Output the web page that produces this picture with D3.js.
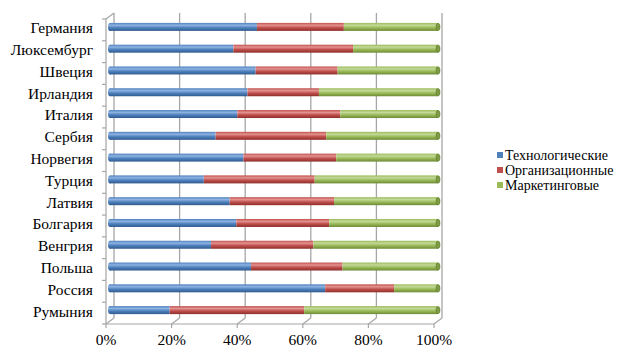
<!DOCTYPE html>
<html>
<head>
<meta charset="utf-8">
<script src="https://cdn.jsdelivr.net/npm/d3@7"></script>
<style>
  body { margin: 0; background: #fff; }
</style>
</head>
<body>
<div id="chart"></div>
<script>
var width = 627;
var height = 352;
var font = "'Liberation Serif', 'Times New Roman', Tinos, 'DejaVu Serif', serif";

var countries = ["Германия","Люксембург","Швеция","Ирландия","Италия","Сербия","Норвегия",
                 "Турция","Латвия","Болгария","Венгрия","Польша","Россия","Румыния"];
var tech = [44.8, 37.6, 44.4, 41.9, 38.8, 32.2, 40.7, 28.6, 36.5, 38.5, 30.8, 43.0, 65.6, 18.2];
var org  = [26.5, 36.5, 25.0, 21.8, 31.4, 33.7, 28.3, 33.8, 31.8, 28.3, 31.2, 27.9, 21.0, 41.0];
var mkt  = [28.7, 25.9, 30.6, 36.3, 29.8, 34.1, 31.0, 37.6, 31.7, 33.2, 38.0, 29.1, 13.4, 40.8];
var seriesNames = ["Технологические", "Организационные", "Маркетинговые"];
var ticks = [0, 20, 40, 60, 80, 100];

var colors = ["#4F81BD", "#C0504D", "#9BBB59"];
var light = ["#8DB3E2", "#E39390", "#C3D99A"];
var dark = ["#2F5B8F", "#8E2F2C", "#6D8A36"];

var svg = d3.select("#chart").append("svg")
  .attr("width", width)
  .attr("height", height)
  .style("font-family", font);

// front plane of the 3D box, depth offset to the back wall
var margin = {top: 19, bottom: 28, left: 106, right: 193};
var depth = {dx: 8, dy: -6};

var xScale = d3.scaleLinear()
  .domain([0, 100])
  .range([margin.left, width - margin.right]);

var yScale = d3.scaleBand()
  .domain(countries)
  .range([margin.top, height - margin.bottom]);

var gridColor = "#A6A6A6";
var y0 = height - margin.bottom;

// back wall gridlines
svg.append("g").selectAll("line")
  .data(ticks)
  .enter().append("line")
    .attr("x1", function(d) { return xScale(d) + depth.dx; })
    .attr("x2", function(d) { return xScale(d) + depth.dx; })
    .attr("y1", margin.top + depth.dy)
    .attr("y2", y0 + depth.dy)
    .attr("stroke", gridColor)
    .attr("stroke-width", 1.3);

// floor diagonals
svg.append("g").selectAll("line")
  .data(ticks)
  .enter().append("line")
    .attr("x1", function(d) { return xScale(d); })
    .attr("x2", function(d) { return xScale(d) + depth.dx; })
    .attr("y1", y0)
    .attr("y2", y0 + depth.dy)
    .attr("stroke", gridColor)
    .attr("stroke-width", 1.2);

// front floor line and tick marks
svg.append("line")
  .attr("x1", xScale(0)).attr("x2", xScale(100))
  .attr("y1", y0).attr("y2", y0)
  .attr("stroke", gridColor).attr("stroke-width", 1.2);
svg.append("g").selectAll("line")
  .data(ticks)
  .enter().append("line")
    .attr("x1", function(d) { return xScale(d); })
    .attr("x2", function(d) { return xScale(d); })
    .attr("y1", y0).attr("y2", y0 + 4)
    .attr("stroke", gridColor).attr("stroke-width", 1.2);

// left wall edge
svg.append("line")
  .attr("x1", margin.left).attr("x2", margin.left)
  .attr("y1", margin.top).attr("y2", y0)
  .attr("stroke", gridColor).attr("stroke-width", 1.2);
svg.append("line")
  .attr("x1", margin.left).attr("x2", margin.left + depth.dx)
  .attr("y1", margin.top).attr("y2", margin.top + depth.dy)
  .attr("stroke", gridColor).attr("stroke-width", 1.2);
svg.append("g").selectAll("line")
  .data(d3.range(countries.length + 1))
  .enter().append("line")
    .attr("x1", margin.left - 4).attr("x2", margin.left)
    .attr("y1", function(i) { return margin.top + i * yScale.step(); })
    .attr("y2", function(i) { return margin.top + i * yScale.step(); })
    .attr("stroke", gridColor).attr("stroke-width", 1.2);

// x tick labels
svg.append("g").selectAll("text")
  .data(ticks)
  .enter().append("text")
    .attr("x", function(d) { return xScale(d); })
    .attr("y", 345)
    .attr("text-anchor", "middle")
    .style("font-family", font)
    .style("font-size", "15.5px")
    .text(function(d) { return d + "%"; });

// category labels
svg.append("g").selectAll("text")
  .data(countries)
  .enter().append("text")
    .attr("x", 93)
    .attr("y", function(d) { return yScale(d) + yScale.bandwidth() / 2 - 2; })
    .attr("dy", "0.35em")
    .attr("text-anchor", "end")
    .style("font-family", font)
    .style("font-size", "15.5px")
    .text(function(d) { return d; });

// cylinder gradients
var defs = svg.append("defs");
colors.forEach(function(c, i) {
  var g = defs.append("linearGradient")
    .attr("id", "grad" + i)
    .attr("x1", 0).attr("y1", 0).attr("x2", 0).attr("y2", 1);
  g.append("stop").attr("offset", "0%").attr("stop-color", c);
  g.append("stop").attr("offset", "30%").attr("stop-color", light[i]);
  g.append("stop").attr("offset", "60%").attr("stop-color", c);
  g.append("stop").attr("offset", "100%").attr("stop-color", dark[i]);
});

var stackData = countries.map(function(c, i) {
  return {country: c, t: tech[i], o: org[i], m: mkt[i]};
});
var stack = d3.stack().keys(["t", "o", "m"]);
var layers = stack(stackData);

var barH = 8;
var bx = depth.dx / 2;
var by = depth.dy / 2;

layers.forEach(function(layer, li) {
  svg.append("g").selectAll("rect")
    .data(layer)
    .enter().append("rect")
      .attr("x", function(d) { return xScale(d[0]) + bx; })
      .attr("y", function(d) { return yScale(d.data.country) + yScale.bandwidth() / 2 + by - barH / 2; })
      .attr("width", function(d) { return xScale(d[1]) - xScale(d[0]); })
      .attr("height", barH)
      .attr("fill", "url(#grad" + li + ")");
});

// rounded ends of the cylinders
svg.append("g").selectAll("ellipse")
  .data(stackData)
  .enter().append("ellipse")
    .attr("cx", xScale(0) + bx)
    .attr("cy", function(d) { return yScale(d.country) + yScale.bandwidth() / 2 + by; })
    .attr("rx", 2).attr("ry", barH / 2)
    .attr("fill", "url(#grad0)");
svg.append("g").selectAll("ellipse")
  .data(stackData)
  .enter().append("ellipse")
    .attr("cx", xScale(100) + bx)
    .attr("cy", function(d) { return yScale(d.country) + yScale.bandwidth() / 2 + by; })
    .attr("rx", 2).attr("ry", barH / 2 - 0.3)
    .attr("fill", "#7E9C44")
    .attr("stroke", "#5E7A2C")
    .attr("stroke-width", 0.6);

// legend
var legend = svg.append("g").selectAll("g")
  .data(seriesNames)
  .enter().append("g")
    .attr("transform", function(d, i) { return "translate(497," + (155 + i * 15) + ")"; });
legend.append("rect")
  .attr("x", 0).attr("y", -3)
  .attr("width", 6).attr("height", 6)
  .attr("fill", function(d, i) { return colors[i]; });
legend.append("text")
  .attr("x", 8).attr("y", 0)
  .attr("dy", "0.35em")
  .style("font-family", font)
  .style("font-size", "14px")
  .text(function(d) { return d; });
</script>
</body>
</html>
